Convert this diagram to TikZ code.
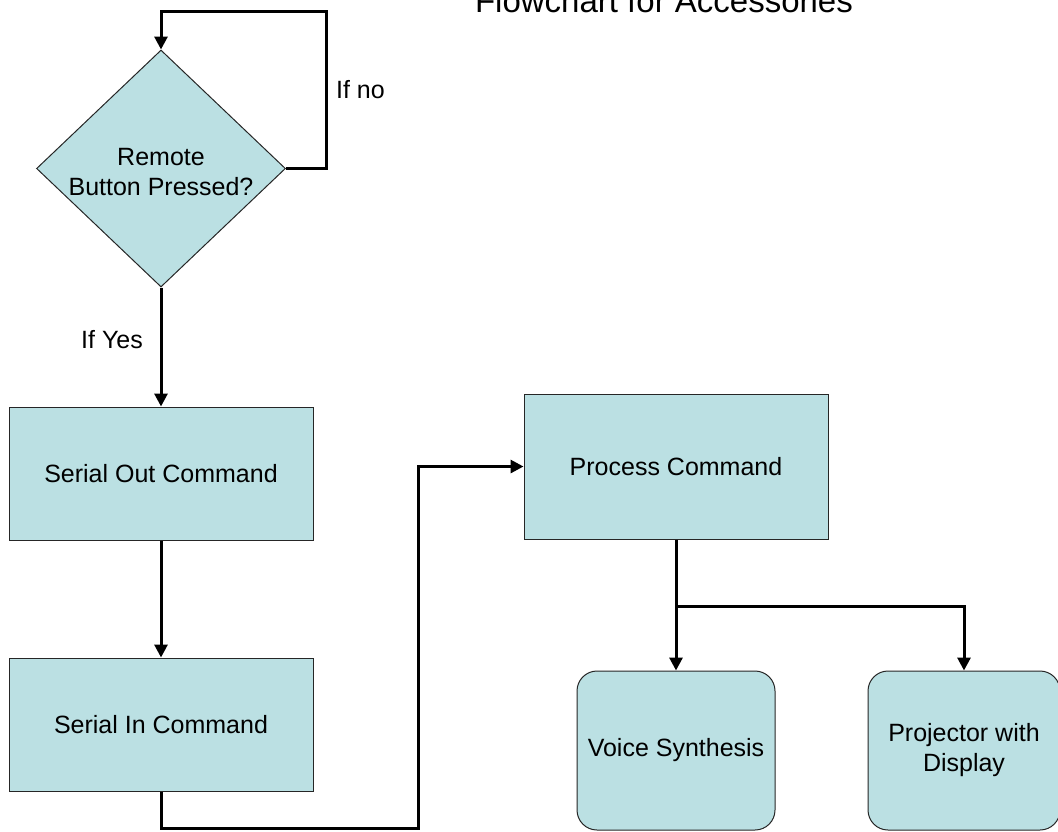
\documentclass[tikz,border=0pt]{standalone}
\usepackage{fontspec}
\setmainfont{Liberation Sans}
\usepackage{tikz}
\usetikzlibrary{shapes.geometric,arrows.meta}
\definecolor{boxfill}{RGB}{187,224,227}

\begin{document}
\begin{tikzpicture}[x=0.5pt,y=-0.5pt,
	font=\fontsize{12.5}{15}\selectfont,
	block/.style={draw=black!85,line width=0.5pt,fill=boxfill,inner sep=0pt,align=center},
	decision/.style={block,diamond,minimum width=124.5pt,minimum height=118.5pt},
	outcome/.style={block,rounded corners=10pt,minimum height=79.5pt},
	flow/.style={line width=1.5pt,-{Triangle[width=6.5pt,length=6.5pt]}}]

	\useasboundingbox (0,0) rectangle (1058,831);

%	title, runs off the top edge
	\node[anchor=base west,font=\fontsize{16.5}{20}\selectfont] (title) at (468,12) {Flowchart for Accessories};

	\node[decision] (remote) at (161,168.5) {};
	\node[align=center] (remotetxt) at (161,172) {Remote\\Button Pressed?};

	\node[block,minimum width=152pt,minimum height=66.5pt] (serialout) at (161,473.5) {Serial Out Command};
	\node[block,minimum width=152pt,minimum height=66.5pt] (serialin) at (161,724.5) {Serial In Command};
	\node[block,minimum width=152pt,minimum height=72.5pt] (process) at (676,466.5) {Process Command};

	\node[outcome,minimum width=99pt] (voice) at (676,750.5) {Voice Synthesis};
	\node[outcome,minimum width=96pt] (projector) at (964,750.5) {Projector with\\Display};

	\coordinate (loop) at (326,11);
	\coordinate (low) at (418,828);
	\coordinate (split) at (676,606);

	\draw[flow] (remote.east) -| (loop) -| (remote.north);
	\draw[flow] (remote.south) -- (serialout.north);
	\draw[flow] (serialout.south) -- (serialin.north);
	\draw[flow] (serialin.south) |- (low) |- (process.west);

	\draw[line width=1.5pt] (process.south) -- (split);
	\draw[flow] (split) -- (voice.north);
	\draw[flow] (split) -| (projector.north);

	\node[anchor=west] (ifno) at (329,90) {If no};
	\node (ifyes) at (112,340) {If Yes};

\end{tikzpicture}
\end{document}
